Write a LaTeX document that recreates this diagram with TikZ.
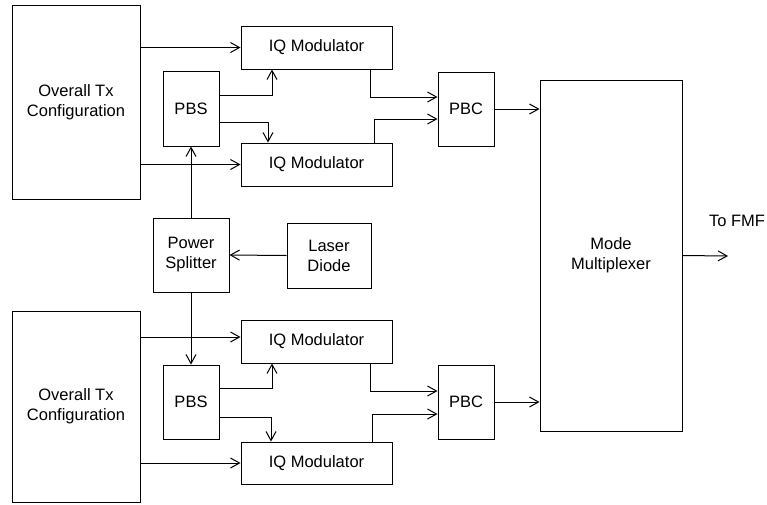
\documentclass[tikz,border=0pt]{standalone}
\usepackage{fontspec}
\setmainfont{Liberation Sans}
\usetikzlibrary{arrows.meta,calc}
\begin{document}
\begin{tikzpicture}[x=1pt,y=-1pt,
  blk/.style={draw,line width=1pt,inner sep=0pt,align=center,font=\fontsize{16.5}{20}\selectfont},
  arr/.style={line width=1pt,-{Straight Barb[length=9pt,width=10pt,line width=1pt]}}]
\useasboundingbox (0,0) rectangle (767,504);
\node[blk,minimum width=128pt,minimum height=194pt] (tx1) at (76,102) {Overall Tx\\Configuration};
\node[blk,minimum width=151pt,minimum height=43pt] (iq1) at (316.5,47.5) {IQ Modulator};
\node[blk,minimum width=56pt,minimum height=75pt] (pbs1) at (191,108.5) {PBS};
\node[blk,minimum width=151pt,minimum height=43pt] (iq2) at (316.5,164.5) {IQ Modulator};
\node[blk,minimum width=76pt,minimum height=74pt] (ps) at (191,255) {Power\\Splitter};
\node[blk,minimum width=84pt,minimum height=65pt] (ld) at (329,255.5) {Laser\\Diode};
\node[blk,minimum width=128pt,minimum height=191pt] (tx2) at (76,406.5) {Overall Tx\\Configuration};
\node[blk,minimum width=151pt,minimum height=43pt] (iq3) at (316.5,341.5) {IQ Modulator};
\node[blk,minimum width=56pt,minimum height=74pt] (pbs2) at (191,402) {PBS};
\node[blk,minimum width=151pt,minimum height=42pt] (iq4) at (316.5,463) {IQ Modulator};
\node[blk,minimum width=56pt,minimum height=74pt] (pbc1) at (466,109) {PBC};
\node[blk,minimum width=56pt,minimum height=74pt] (pbc2) at (466,402) {PBC};
\node[blk,minimum width=142pt,minimum height=351pt] (mux) at (611,255.5) {Mode\\Multiplexer};
\node[font=\fontsize{16.5}{20}\selectfont,inner sep=0pt] (fmf) at (737,221) {To FMF};
\coordinate (out) at (728,256);
% Tx to modulators
\draw[arr] (tx1.east |- iq1.west) -- (iq1.west);
\draw[arr] (tx1.east |- iq2.west) -- (iq2.west);
\draw[arr] ($(tx2.east |- iq3.west)+(0,-4.5)$) -- ($(iq3.west)+(0,-4.5)$);
\draw[arr] (tx2.east |- iq4.west) -- (iq4.west);
% PBS to modulators
\draw[arr] ($(pbs1.east)+(0,-13.5)$) -| ($(iq1.south)+(-44.5,0)$);
\draw[arr] ($(pbs1.east)+(0,13.5)$) -| ($(iq2.north)+(-48.5,0)$);
\draw[arr] ($(pbs2.east)+(0,-14)$) -| ($(iq3.south)+(-44.5,0)$);
\draw[arr] ($(pbs2.east)+(0,15)$) -| ($(iq4.north)+(-45.5,0)$);
% splitter
\draw[arr] (ps.north) -- (pbs1.south);
\draw[arr] (ps.south) -- (pbs2.north);
\draw[arr] (ld.west) -- (ps.east);
% modulators to PBC
\draw[arr] ($(iq1.south)+(53.5,0)$) |- ($(pbc1.west)+(0,-12)$);
\draw[arr] ($(iq2.north)+(57.5,0)$) |- ($(pbc1.west)+(0,10)$);
\draw[arr] ($(iq3.south)+(53.5,0)$) |- ($(pbc2.west)+(0,-11)$);
\draw[arr] ($(iq4.north)+(55.5,0)$) |- ($(pbc2.west)+(0,12)$);
% PBC to mux
\draw[arr] (pbc1.east) -- (pbc1.east -| mux.west);
\draw[arr] (pbc2.east) -- (pbc2.east -| mux.west);
\draw[arr] (mux.east) -- (out);
\end{tikzpicture}
\end{document}
